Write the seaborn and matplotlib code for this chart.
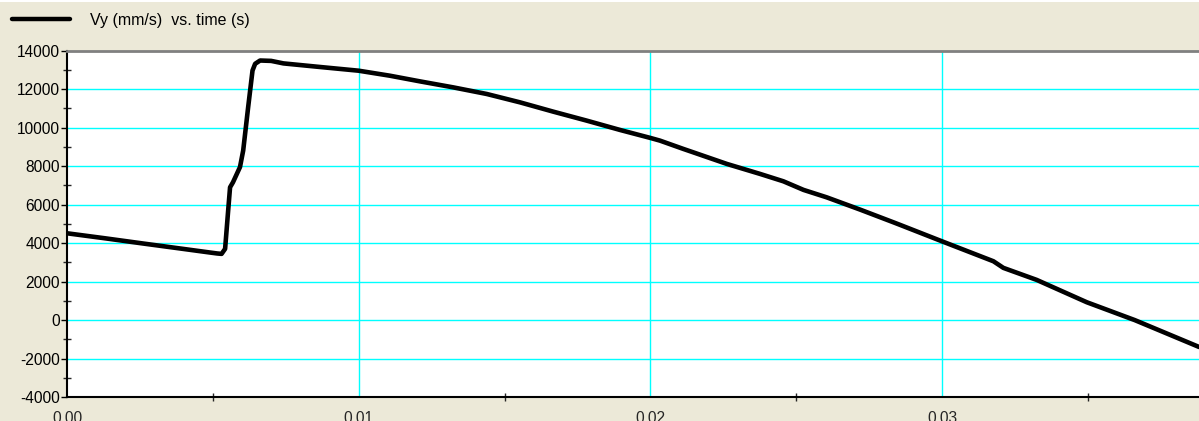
import numpy as np
import pandas as pd
import seaborn as sns
import matplotlib
matplotlib.use("Agg")
import matplotlib.pyplot as plt
from matplotlib.lines import Line2D
from matplotlib.patches import Rectangle
from matplotlib.ticker import MultipleLocator, FixedLocator

# Velocity trace: time (s) and Vy (mm/s)
time_s = [0.0, 0.0013, 0.0026, 0.0039, 0.0049, 0.00515, 0.0053, 0.00542,
          0.00552, 0.00559, 0.00569, 0.00593, 0.00604, 0.00621, 0.00636,
          0.00645, 0.00662, 0.0070, 0.00742, 0.00856, 0.0100, 0.01107,
          0.0121, 0.01324, 0.01439, 0.01553, 0.01667, 0.01782, 0.01896,
          0.0200, 0.02033, 0.02113, 0.02147, 0.02262, 0.02376, 0.02456,
          0.02525, 0.02604, 0.02719, 0.02833, 0.02856, 0.03002, 0.03176,
          0.0321, 0.03324, 0.03496, 0.0366, 0.03881]
vy_mm_s = [4510, 4250, 3980, 3715, 3510, 3460, 3440, 3700,
           5600, 6900, 7160, 7950, 8810, 11060, 12970,
           13320, 13490, 13470, 13340, 13170, 12960, 12700,
           12406, 12094, 11750, 11315, 10832, 10364, 9880,
           9465, 9325, 8894, 8717, 8115, 7595, 7211,
           6764, 6380, 5740, 5081, 4946, 4078, 3055,
           2712, 2088, 925, 0, -1400]

legend_label = "Vy (mm/s)  vs. time (s)"
y_ticks = [-4000, -2000, 0, 2000, 4000, 6000, 8000, 10000, 12000, 14000]
x_ticks = [0.00, 0.01, 0.02, 0.03]
x_tick_labels = ["0.00", "0.01", "0.02", "0.03"]

sns.set_style("white")
plt.rcParams["font.family"] = ["Liberation Sans", "DejaVu Sans"]
plt.rcParams["axes.unicode_minus"] = False

W, H = 1199, 421
fig = plt.figure(figsize=(W / 100, H / 100), dpi=100, facecolor="#ECE9D8")
fig.add_artist(Rectangle((0, 1 - 2 / H), 1, 2 / H, transform=fig.transFigure,
                         facecolor="white", edgecolor="none"))

ax = fig.add_axes([67 / W, 1 - 397 / H, 1 - 67 / W, (397 - 50.7) / H])
ax.set_facecolor("white")

df = pd.DataFrame({"t": time_s, "vy": vy_mm_s})

# cyan grid drawn beneath the trace
for yv in y_ticks[1:-1]:
    ax.axhline(yv, color="#00FFFF", lw=1.0, zorder=1)
for xv in x_ticks[1:]:
    ax.axvline(xv, color="#00FFFF", lw=1.0, zorder=1)

sns.lineplot(data=df, x="t", y="vy", ax=ax, color="black", lw=3.3,
             estimator=None, sort=False, zorder=3, solid_joinstyle="round")

ax.set_xlim(0, (W - 67) / 29170)
ax.set_ylim(-4000, 14000)
ax.set_xlabel("")
ax.set_ylabel("")

ax.yaxis.set_major_locator(FixedLocator(y_ticks))
ax.yaxis.set_minor_locator(MultipleLocator(1000))
ax.xaxis.set_major_locator(FixedLocator(x_ticks))
ax.set_xticklabels(x_tick_labels)
ax.xaxis.set_minor_locator(MultipleLocator(0.005))

ax.tick_params(axis="y", which="major", direction="out", length=4, width=1,
               labelsize=11.2, pad=1, colors="black", left=True)
ax.tick_params(axis="y", which="minor", direction="inout", length=6, width=1,
               left=True)
ax.tick_params(axis="x", which="major", direction="inout", length=0,
               labelsize=11.2, pad=10, bottom=True)
ax.tick_params(axis="x", which="minor", direction="inout", length=6, width=1,
               bottom=True)

for side in ["left", "bottom"]:
    ax.spines[side].set_color("black")
    ax.spines[side].set_linewidth(1.5)
ax.spines["top"].set_color("#808080")
ax.spines["top"].set_linewidth(2)
ax.spines["right"].set_visible(False)

# legend strip
fig.add_artist(Line2D([12 / W, 70 / W], [1 - 19 / H, 1 - 19 / H],
                      transform=fig.transFigure, color="black", lw=3.2,
                      solid_capstyle="round"))
fig.text(90 / W, 1 - 20 / H, legend_label, fontsize=11.5, va="center",
         ha="left", color="black")

fig.savefig("out.png", dpi=100, facecolor=fig.get_facecolor())
